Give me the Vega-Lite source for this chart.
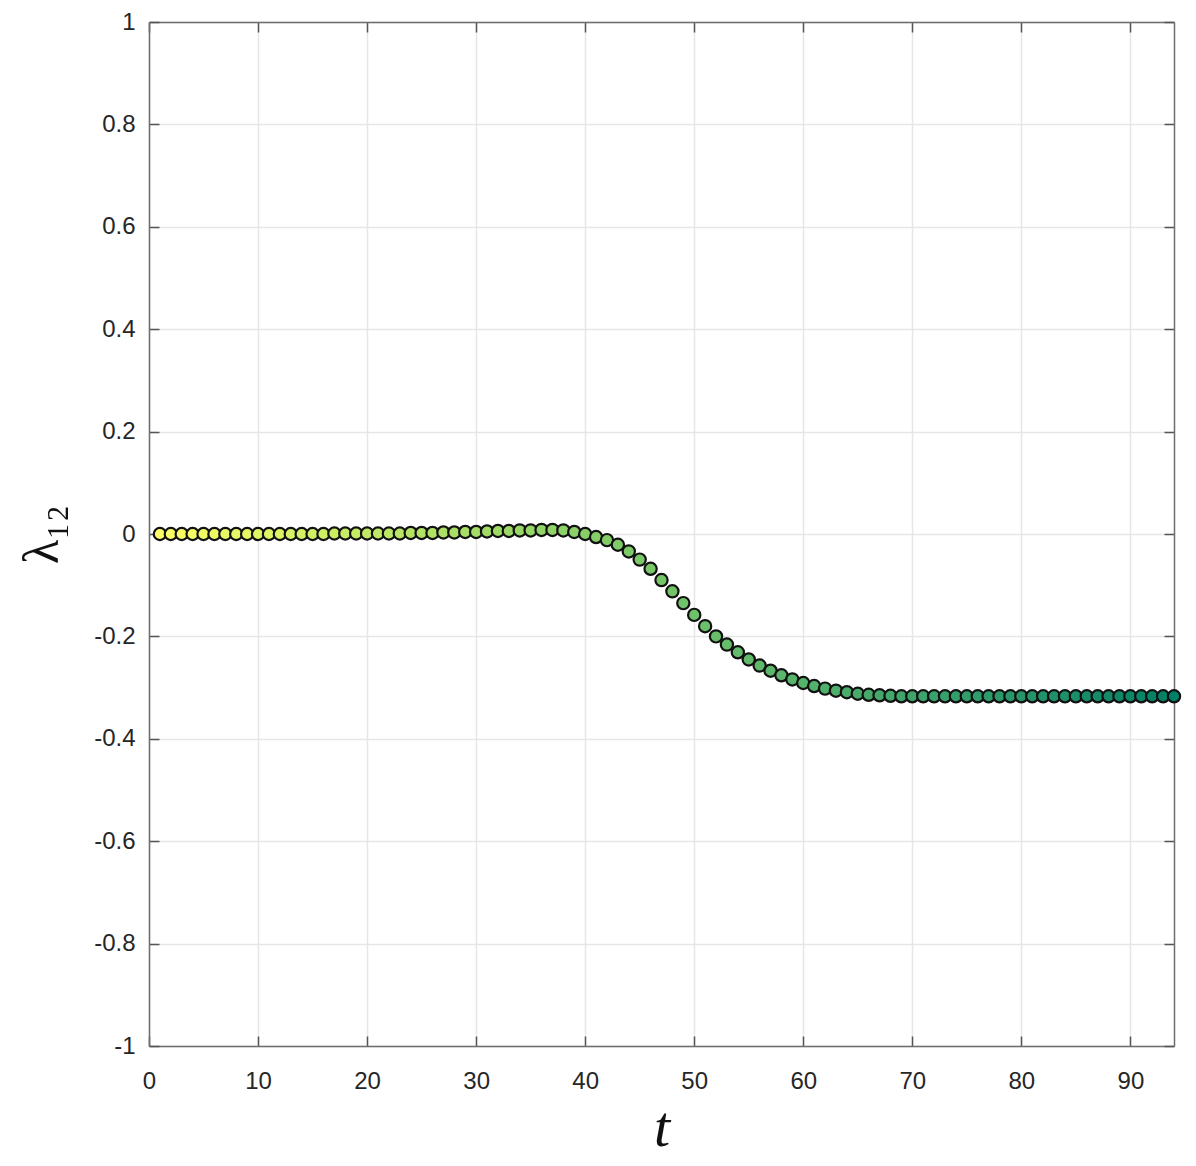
{
  "$schema": "https://vega.github.io/schema/vega-lite/v6.json",
  "autosize": "none",
  "width": 1025,
  "height": 1024,
  "padding": {"left": 149, "top": 22, "right": 22, "bottom": 120},
  "background": "white",
  "config": {
    "view": {"stroke": null}
  },
  "data": {"values": [
    {"t":1,"v":0.000},{"t":2,"v":0.000},{"t":3,"v":0.000},{"t":4,"v":0.000},{"t":5,"v":0.000},
    {"t":6,"v":0.000},{"t":7,"v":0.000},{"t":8,"v":0.000},{"t":9,"v":0.000},{"t":10,"v":0.000},
    {"t":11,"v":0.000},{"t":12,"v":0.000},{"t":13,"v":0.000},{"t":14,"v":0.000},{"t":15,"v":0.000},
    {"t":16,"v":0.000},{"t":17,"v":0.001},{"t":18,"v":0.001},{"t":19,"v":0.001},{"t":20,"v":0.001},
    {"t":21,"v":0.001},{"t":22,"v":0.001},{"t":23,"v":0.001},{"t":24,"v":0.002},{"t":25,"v":0.002},
    {"t":26,"v":0.002},{"t":27,"v":0.003},{"t":28,"v":0.003},{"t":29,"v":0.004},{"t":30,"v":0.004},
    {"t":31,"v":0.005},{"t":32,"v":0.006},{"t":33,"v":0.006},{"t":34,"v":0.007},{"t":35,"v":0.007},
    {"t":36,"v":0.008},{"t":37,"v":0.008},{"t":38,"v":0.007},{"t":39,"v":0.004},{"t":40,"v":0.000},
    {"t":41,"v":-0.006},{"t":42,"v":-0.012},{"t":43,"v":-0.021},{"t":44,"v":-0.034},{"t":45,"v":-0.050},
    {"t":46,"v":-0.068},{"t":47,"v":-0.090},{"t":48,"v":-0.112},{"t":49,"v":-0.135},{"t":50,"v":-0.158},
    {"t":51,"v":-0.180},{"t":52,"v":-0.200},{"t":53,"v":-0.216},{"t":54,"v":-0.231},{"t":55,"v":-0.245},
    {"t":56,"v":-0.257},{"t":57,"v":-0.267},{"t":58,"v":-0.276},{"t":59,"v":-0.284},{"t":60,"v":-0.291},
    {"t":61,"v":-0.297},{"t":62,"v":-0.302},{"t":63,"v":-0.306},{"t":64,"v":-0.309},{"t":65,"v":-0.312},
    {"t":66,"v":-0.314},{"t":67,"v":-0.315},{"t":68,"v":-0.316},{"t":69,"v":-0.317},{"t":70,"v":-0.317},
    {"t":71,"v":-0.317},{"t":72,"v":-0.317},{"t":73,"v":-0.317},{"t":74,"v":-0.317},{"t":75,"v":-0.317},
    {"t":76,"v":-0.317},{"t":77,"v":-0.317},{"t":78,"v":-0.317},{"t":79,"v":-0.317},{"t":80,"v":-0.317},
    {"t":81,"v":-0.317},{"t":82,"v":-0.317},{"t":83,"v":-0.317},{"t":84,"v":-0.317},{"t":85,"v":-0.317},
    {"t":86,"v":-0.317},{"t":87,"v":-0.317},{"t":88,"v":-0.317},{"t":89,"v":-0.317},{"t":90,"v":-0.317},
    {"t":91,"v":-0.317},{"t":92,"v":-0.317},{"t":93,"v":-0.317},{"t":94,"v":-0.317}
  ]},
  "layer": [
    {
      "mark": {"type": "point", "opacity": 0},
      "encoding": {
        "x": {"field": "t", "type": "quantitative", "scale": {"domain": [0, 94], "nice": false, "zero": false},
              "axis": {"orient": "top", "labels": false, "grid": false, "values": [0,10,20,30,40,50,60,70,80,90], "title": null,
                       "domainColor": "#6e6e6e", "domainWidth": 1.5, "tickColor": "#555555", "tickWidth": 1.5, "tickSize": -10}},
        "y": {"field": "v", "type": "quantitative", "scale": {"domain": [-1, 1], "nice": false},
              "axis": {"orient": "right", "labels": false, "grid": false, "values": [-1,-0.8,-0.6,-0.4,-0.2,0,0.2,0.4,0.6,0.8,1], "title": null,
                       "domainColor": "#6e6e6e", "domainWidth": 1.5, "tickColor": "#555555", "tickWidth": 1.5, "tickSize": -10}}
      }
    },
    {
      "mark": {"type": "point", "filled": true, "size": 150, "stroke": "#111111", "strokeWidth": 2.2, "opacity": 1, "clip": false},
      "encoding": {
        "x": {"field": "t", "type": "quantitative", "scale": {"domain": [0, 94], "nice": false, "zero": false},
              "axis": {"orient": "bottom", "values": [0,10,20,30,40,50,60,70,80,90], "grid": true, "labelFlush": false,
                       "gridColor": "#e6e6e6", "gridWidth": 1.5,
                       "domainColor": "#6e6e6e", "domainWidth": 1.5, "tickColor": "#555555", "tickWidth": 1.5, "tickSize": -10,
                       "labelFont": "Liberation Sans", "labelFontSize": 24, "labelColor": "#262626", "labelPadding": 33,
                       "title": "t", "titleFont": "Liberation Serif", "titleFontStyle": "italic", "titleFontWeight": "normal",
                       "titleFontSize": 58, "titleColor": "#111111", "titlePadding": 6}},
        "y": {"field": "v", "type": "quantitative", "scale": {"domain": [-1, 1], "nice": false},
              "axis": {"orient": "left", "values": [-1,-0.8,-0.6,-0.4,-0.2,0,0.2,0.4,0.6,0.8,1], "grid": true, "labelFlush": false,
                       "gridColor": "#e6e6e6", "gridWidth": 1.5,
                       "domainColor": "#6e6e6e", "domainWidth": 1.5, "tickColor": "#555555", "tickWidth": 1.5, "tickSize": -10,
                       "labelFont": "Liberation Sans", "labelFontSize": 24, "labelColor": "#262626", "labelPadding": 24,
                       "labelExpr": "datum.value == 0 ? '0' : replace(format(datum.value, '.1~f'), '−', '-')",
                       "title": "λ₁₂", "titleFont": "Liberation Serif", "titleFontWeight": "normal",
                       "titleFontSize": 50, "titleColor": "#111111", "titlePadding": 26}},
        "color": {"field": "t", "type": "quantitative", "scale": {"domain": [1, 94], "range": ["#ffff66", "#008066"]}, "legend": null}
      }
    }
  ],
  "resolve": {"axis": {"x": "independent", "y": "independent"}}
}
